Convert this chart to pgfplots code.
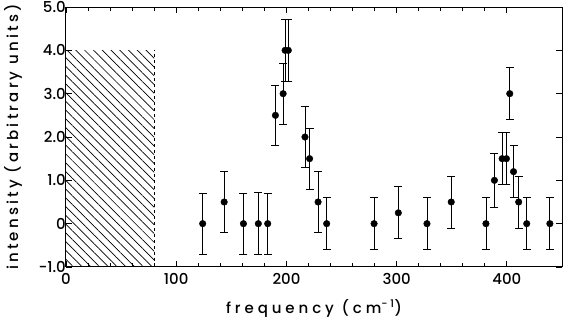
\documentclass[border=0pt]{standalone}
\usepackage{fontspec}
\setmainfont{Poppins}[UprightFont={* Medium}]
\usepackage{pgfplots}
\pgfplotsset{compat=1.18}
\usetikzlibrary{patterns.meta}
\pgfplotstableread{
x y e
124 0 0.7
143.5 0.5 0.7
161 0 0.7
174.5 0 0.72
183 0 0.7
190 2.5 0.7
197 3.0 0.7
198.8 4.0 0.72
201.7 4.0 0.72
216.8 2.0 0.7
221 1.5 0.7
228.7 0.5 0.7
236.5 0 0.6
279.5 0 0.6
301.5 0.25 0.6
327.5 0 0.6
349.5 0.5 0.6
381 0 0.6
388.7 1.0 0.63
395.7 1.5 0.6
399.6 1.5 0.6
402.6 3.0 0.6
406 1.2 0.6
410.7 0.5 0.6
418 0 0.6
439 0 0.6
}\data
\begin{document}
\begin{tikzpicture}
\begin{axis}[
  scale only axis, width=496pt, height=260pt,
  xmin=0, xmax=450, ymin=-1, ymax=5,
  xtick={0,100,200,300,400}, xticklabels={0,100,200,300,400},
  minor x tick num=4,
  ytick={-1,0,1,2,3,4,5}, yticklabels={-1.0,0,1.0,2.0,3.0,4.0,5.0},
  tick align=inside, major tick length=6pt, minor tick length=4pt,
  axis line style={line width=1pt},
  tick style={black, line width=0.8pt},
  ticklabel style={font=\fontsize{15}{15}\selectfont, inner sep=1pt},
  yticklabel style={anchor=east, xshift=1pt},
  xticklabel style={anchor=north, yshift=-5pt},
  xlabel={\addfontfeatures{LetterSpace=26}frequency (cm\textsuperscript{-1})},
  ylabel={\addfontfeatures{LetterSpace=21}intensity (arbitrary units)},
  label style={font=\fontsize{15}{18}\selectfont},
  xlabel style={at={(axis description cs:0.5,0)}, anchor=center, yshift=-41pt},
  ylabel style={at={(axis description cs:0,0.5)}, anchor=center, rotate=0, yshift=53pt},
]
\addplot[draw=none, pattern={Lines[angle=-45, distance=6.2pt, line width=0.7pt]}] coordinates {(0,-1) (0,4) (80,4) (80,-1)} -- cycle;
\addplot[dashed, line width=0.7pt] coordinates {(80,-1) (80,4)};
\addplot[only marks, mark=*, mark size=3.3pt, black,
  error bars/.cd, y dir=both, y explicit,
  error bar style={line width=0.8pt},
  error mark options={rotate=90, mark size=4pt, line width=0.8pt}]
  table[x=x, y=y, y error=e] {\data};
\end{axis}
\pgfresetboundingbox
\path (current axis.south west) ++(-66pt,-58pt) rectangle (current axis.north east);
\path (current axis.north east) ++(10pt,7pt) coordinate (ne);
\path (ne) rectangle (ne);
\end{tikzpicture}
\end{document}
